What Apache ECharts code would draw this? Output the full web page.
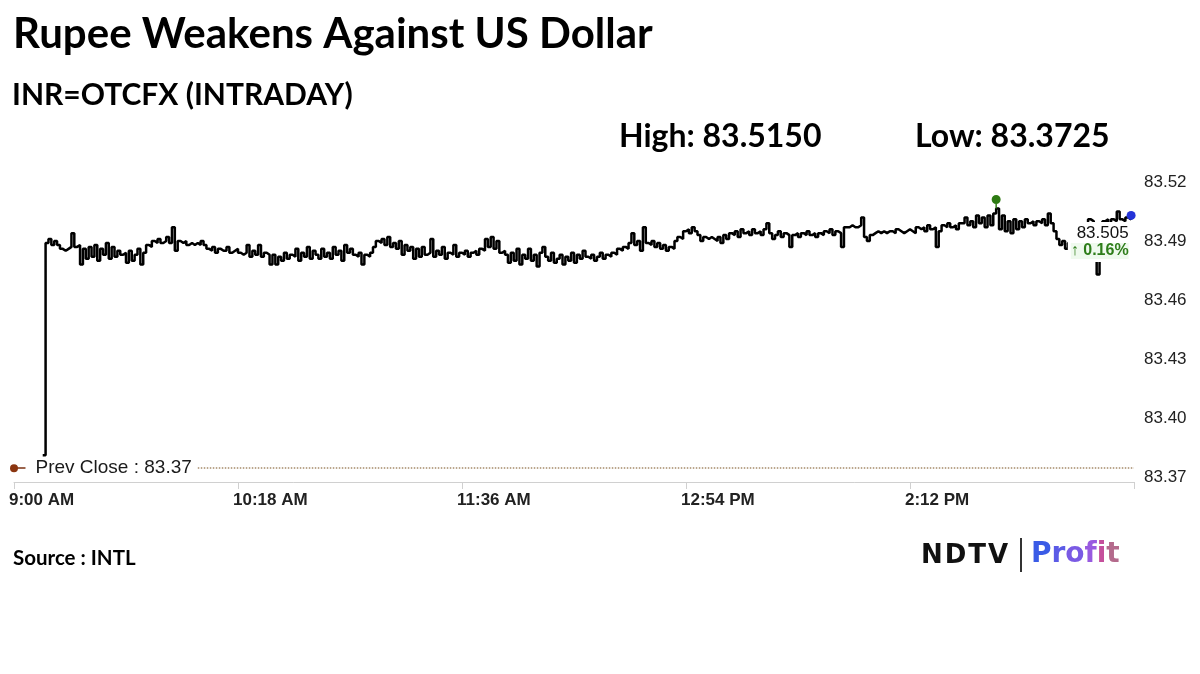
<!DOCTYPE html>
<html>
<head>
<meta charset="utf-8">
<script src="https://cdn.jsdelivr.net/npm/echarts@6/dist/echarts.min.js"></script>
<style>html,body{margin:0;padding:0;background:#fff;}#c{width:1200px;height:674px;}</style>
</head>
<body>
<div id="c"></div>
<script>
// ---- data (minutes after 9:00 AM) ----
const titleText = 'Rupee Weakens Against US Dollar';
const subtitleText = 'INR=OTCFX (INTRADAY)';
const highText = 'High: 83.5150';
const lowText = 'Low: 83.3725';
const sourceText = 'Source : INTL';
const prevClose = 83.3745;
const prevCloseLabel = 'Prev Close : 83.37';
const lastLabel = '83.505';
const changeLabel = '\u2191 0.16%';
const axisStart = 0, axisEnd = 390, axisStep = 78;   // 9:00 AM .. 3:30 PM
const yTicks = [83.37, 83.40, 83.43, 83.46, 83.49, 83.52];
const firstMinute = 10; // first print at 9:10 AM, one value per minute
const prices = [
  83.381, 83.489, 83.491, 83.488, 83.490, 83.488, 83.486, 83.485, 83.486, 83.487,
  83.494, 83.487, 83.488, 83.478, 83.486, 83.481, 83.487, 83.482, 83.488, 83.480,
  83.486, 83.483, 83.489, 83.481, 83.487, 83.482, 83.485, 83.483, 83.484, 83.479,
  83.485, 83.480, 83.483, 83.486, 83.478, 83.484, 83.488, 83.487, 83.490, 83.489,
  83.491, 83.489, 83.490, 83.492, 83.489, 83.497, 83.485, 83.490, 83.489, 83.490,
  83.488, 83.489, 83.488, 83.489, 83.488, 83.490, 83.488, 83.486, 83.485, 83.487,
  83.484, 83.486, 83.485, 83.485, 83.487, 83.484, 83.485, 83.486, 83.484, 83.483,
  83.484, 83.488, 83.482, 83.485, 83.483, 83.488, 83.482, 83.484, 83.483, 83.478,
  83.483, 83.478, 83.482, 83.480, 83.484, 83.481, 83.483, 83.482, 83.486, 83.480,
  83.484, 83.482, 83.487, 83.481, 83.485, 83.483, 83.481, 83.486, 83.482, 83.484,
  83.481, 83.487, 83.483, 83.485, 83.480, 83.488, 83.484, 83.486, 83.483, 83.482,
  83.484, 83.478, 83.483, 83.482, 83.484, 83.487, 83.490, 83.489, 83.491, 83.488,
  83.492, 83.487, 83.489, 83.486, 83.490, 83.483, 83.488, 83.485, 83.487, 83.481,
  83.486, 83.482, 83.487, 83.483, 83.484, 83.491, 83.482, 83.485, 83.483, 83.487,
  83.481, 83.484, 83.483, 83.488, 83.482, 83.484, 83.483, 83.485, 83.482, 83.484,
  83.485, 83.483, 83.486, 83.485, 83.491, 83.487, 83.492, 83.486, 83.490, 83.484,
  83.485, 83.483, 83.479, 83.484, 83.480, 83.486, 83.478, 83.483, 83.481, 83.486,
  83.480, 83.483, 83.477, 83.484, 83.487, 83.482, 83.480, 83.484, 83.479, 83.481,
  83.483, 83.478, 83.482, 83.480, 83.484, 83.479, 83.483, 83.481, 83.485, 83.482,
  83.481, 83.483, 83.480, 83.482, 83.484, 83.481, 83.483, 83.482, 83.484, 83.483,
  83.486, 83.485, 83.487, 83.486, 83.489, 83.494, 83.488, 83.490, 83.485, 83.497,
  83.489, 83.488, 83.490, 83.487, 83.489, 83.486, 83.488, 83.485, 83.487, 83.486,
  83.490, 83.492, 83.491, 83.495, 83.496, 83.494, 83.497, 83.495, 83.493, 83.490,
  83.492, 83.491, 83.492, 83.491, 83.490, 83.492, 83.489, 83.493, 83.491, 83.494,
  83.493, 83.495, 83.492, 83.496, 83.494, 83.495, 83.493, 83.496, 83.494, 83.495,
  83.493, 83.496, 83.499, 83.494, 83.491, 83.493, 83.495, 83.492, 83.494, 83.493,
  83.487, 83.493, 83.494, 83.492, 83.494, 83.493, 83.495, 83.493, 83.494, 83.492,
  83.494, 83.493, 83.495, 83.494, 83.496, 83.493, 83.495, 83.494, 83.487, 83.497,
  83.497, 83.498, 83.497, 83.497, 83.498, 83.502, 83.492, 83.490, 83.493, 83.494,
  83.495, 83.494, 83.495, 83.494, 83.495, 83.495, 83.494, 83.496, 83.495, 83.494,
  83.495, 83.496, 83.495, 83.494, 83.497, 83.496, 83.497, 83.495, 83.498, 83.496,
  83.497, 83.487, 83.495, 83.498, 83.497, 83.499, 83.497, 83.498, 83.496, 83.499,
  83.499, 83.502, 83.498, 83.500, 83.497, 83.503, 83.499, 83.502, 83.497, 83.503,
  83.498, 83.504, 83.5065, 83.496, 83.503, 83.495, 83.500, 83.494, 83.501, 83.496,
  83.500, 83.497, 83.501, 83.499, 83.500, 83.498, 83.500, 83.499, 83.501, 83.498,
  83.504, 83.499, 83.495, 83.491, 83.488, 83.490, 83.486, 83.489, 83.487, 83.490,
  83.489, 83.490, 83.490, 83.491, 83.501, 83.500, 83.498, 83.473, 83.496, 83.500,
  83.501, 83.499, 83.501, 83.500, 83.505, 83.501, 83.500, 83.502, 83.501, 83.503
];

// ---- build ----
const seriesData = prices.map((v, i) => [firstMinute + i, v]);
const last = seriesData[seriesData.length - 1];
function clock(m) {
  const h24 = 9 + Math.floor(m / 60), mm = m % 60;
  const h12 = h24 > 12 ? h24 - 12 : h24;
  return h12 + ':' + String(mm).padStart(2, '0') + (h24 >= 12 ? ' PM' : ' AM');
}
const FONT = 'Lato';
const logoFont = (c) => ({fontFamily: 'DejaVu Sans', fontWeight: 'bold', fontSize: 28, fill: c});
const chart = echarts.init(document.getElementById('c'), null, {renderer: 'canvas'});
chart.setOption({
  animation: false,
  backgroundColor: '#fff',
  title: [
    {text: titleText, left: 13, top: 13, padding: 0, textStyle: {fontFamily: FONT, fontSize: 42, fontWeight: 'bold', color: '#000'}},
    {text: subtitleText, left: 12, top: 80, padding: 0, textStyle: {fontFamily: FONT, fontSize: 30, fontWeight: 'bold', color: '#000'}},
    {text: highText, left: 619, top: 121, padding: 0, textStyle: {fontFamily: FONT, fontSize: 32, fontWeight: 'bold', color: '#000'}},
    {text: lowText, left: 915, top: 121, padding: 0, textStyle: {fontFamily: FONT, fontSize: 32, fontWeight: 'bold', color: '#000'}},
    {text: sourceText, left: 13, top: 548, padding: 0, textStyle: {fontFamily: FONT, fontSize: 20.5, fontWeight: 'bold', color: '#000'}}
  ],
  grid: {left: 14, right: 66, top: 182, bottom: 197, containLabel: false},
  xAxis: {
    type: 'value', min: axisStart, max: axisEnd, interval: axisStep, offset: 5,
    axisLine: {show: true, lineStyle: {color: '#d0d0d0', width: 1}},
    axisTick: {show: true, length: 7, lineStyle: {color: '#d0d0d0'}},
    splitLine: {show: false},
    axisLabel: {
      formatter: v => (v >= axisEnd ? '' : clock(v)),
      align: 'left', margin: 10, padding: [0, 0, 0, -5],
      fontFamily: 'Liberation Sans', fontSize: 17, fontWeight: 'bold', color: '#222',
      showMaxLabel: true, showMinLabel: true
    }
  },
  yAxis: {
    type: 'value', position: 'right', min: yTicks[0], max: yTicks[yTicks.length - 1],
    interval: 0.03, scale: true,
    axisLine: {show: false}, axisTick: {show: false}, splitLine: {show: false},
    axisLabel: {formatter: v => v.toFixed(2), margin: 10, fontFamily: 'Liberation Sans', fontSize: 17, color: '#222'}
  },
  series: [{
    type: 'line', data: seriesData, step: 'end', showSymbol: false, symbol: 'none',
    lineStyle: {color: '#000', width: 2.5}, clip: false, z: 3,
    markLine: {
      silent: true, symbol: ['none', 'none'], animation: false,
      data: [
        [{coord: [64, prevClose], label: {show: true, position: 'start', formatter: prevCloseLabel, distance: 6,
           fontFamily: 'Liberation Sans', fontSize: 19, color: '#1a1a1a'},
          lineStyle: {color: '#a58a6a', type: 'dotted', width: 1.5}},
         {coord: [axisEnd, prevClose]}],
        [{coord: [0, prevClose], label: {show: false}, lineStyle: {color: '#7a3010', type: 'solid', width: 1.5}},
         {coord: [4, prevClose]}]
      ]
    },
    markPoint: {
      silent: true, animation: false,
      data: [
        {coord: [0, prevClose], symbol: 'circle', symbolSize: 8, itemStyle: {color: '#8b3510'}, label: {show: false}},
        {type: 'max', symbol: 'path://M5,0 A5,5 0 1,1 5,10 A5,5 0 1,1 5,0 Z M4.2,9 L5.8,9 L5.8,15 L4.2,15 Z',
         symbolSize: [9, 13.5], symbolOffset: [0, '-50%'], itemStyle: {color: '#2d7a12'}, label: {show: false}},
        {coord: last, symbol: 'circle', symbolSize: 9, itemStyle: {color: '#2433d8'},
         label: {show: true, position: [4, 11], align: 'right', verticalAlign: 'top',
           formatter: '{a|' + lastLabel + '}\n{b|' + changeLabel + '}',
           backgroundColor: '#fff', padding: [2, 2, 2, 3],
           rich: {
             a: {fontFamily: 'Liberation Sans', fontSize: 17, color: '#111', lineHeight: 18},
             b: {fontFamily: 'Liberation Sans', fontSize: 16, fontWeight: 'bold', color: '#2e7d1a', lineHeight: 18, backgroundColor: '#effaee'}
           }}}
      ]
    }
  }],
  graphic: [
    {type: 'text', x: 921, y: 556,
     style: {text: '{n|N}{n|D}{n|T}{v|V}', textVerticalAlign: 'middle',
       rich: {n: {fontFamily: 'DejaVu Sans', fontWeight: 'bold', fontSize: 26, fill: '#111', padding: [0, 2, 0, 0]},
              v: {fontFamily: 'DejaVu Sans', fontWeight: 'bold', fontSize: 26, fill: '#111'}}}},
    {type: 'rect', x: 1020, y: 538, shape: {width: 2, height: 34}, style: {fill: '#333'}},
    {type: 'text', x: 1031, y: 555,
     style: {text: '{a|P}{b|r}{c|o}{d|f}{e|i}{f|t}', textVerticalAlign: 'middle',
       rich: {
         a: logoFont('#3a5be6'), b: logoFont('#5b5be6'), c: logoFont('#7a5ae4'),
         d: logoFont('#985ae0'), e: logoFont('#c54f9c'), f: logoFont('#b46a8c')
       }}}
  ]
});
</script>
</body>
</html>
